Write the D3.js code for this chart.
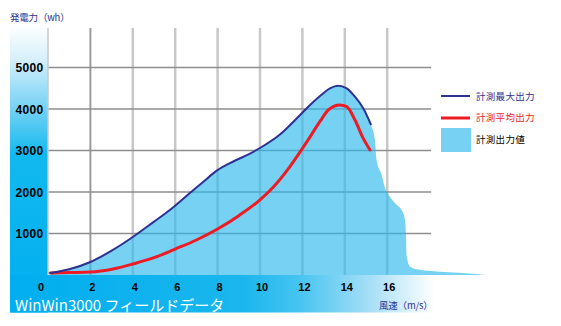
<!DOCTYPE html>
<html><head><meta charset="utf-8">
<script src="https://cdn.jsdelivr.net/npm/d3@7"></script>
<style>body{margin:0;background:#fff}svg{display:block}</style>
</head><body><svg id="c" width="561" height="326"></svg>
<script>
// ---- data ----
const xTicks = [0, 2, 4, 6, 8, 10, 12, 14, 16];
const yTicks = [1000, 2000, 3000, 4000, 5000];

const maxSpeed = [0.1, 1, 2, 3, 4, 5, 5.75, 6.86, 7.33, 7.96, 8.74, 9.53, 10, 10.94, 11.89, 12.36, 12.83, 13.3, 13.68, 14.09, 14.48, 14.87, 15.24];
const maxPower = [50, 137, 313, 586, 916, 1285, 1566, 2048, 2249, 2514, 2735, 2925, 3060, 3385, 3855, 4096, 4313, 4499, 4561, 4499, 4296, 4016, 3614];

const avgSpeed = [0.1, 1, 2, 3.07, 4, 5, 6, 7, 8, 9, 10, 10.63, 11.42, 12.2, 12.83, 13.22, 13.77, 14.09, 14.48, 14.87, 15.19];
const avgPower = [50, 60, 72, 145, 265, 417, 626, 843, 1108, 1430, 1810, 2120, 2620, 3200, 3700, 3976, 4096, 4056, 3735, 3293, 3012];

const areaSpeed = [0.1, 1, 2, 3, 4, 5, 5.75, 6.86, 7.33, 7.96, 8.74, 9.53, 10, 10.94, 11.89, 12.36, 12.83, 13.3, 13.68, 14.09, 14.48, 14.87, 15.24,
                   15.42, 15.5, 15.74, 15.9, 16.05, 16.45, 16.68, 16.84, 16.89, 16.92, 17.08, 17.39, 18.49, 19.75, 20.61];
const areaPower = [50, 137, 313, 586, 916, 1285, 1566, 2048, 2249, 2514, 2735, 2925, 3060, 3385, 3855, 4096, 4313, 4499, 4561, 4499, 4296, 4016, 3614,
                   3253, 2771, 2410, 2089, 1944, 1687, 1566, 1325, 928, 446, 201, 137, 80, 41, 0];

const legendLabels = ["計測最大出力", "計測平均出力", "計測出力値"];
const yTitle = "発電力（wh）";
const xTitle = "風速（m/s）";
const caption = "WinWin3000 フィールドデータ";

// ---- drawing ----
const svg = d3.select("#c");
const x = d3.scaleLinear().domain([0, 18]).range([48, 429.6]);
const y = d3.scaleLinear().domain([0, 5000]).range([275, 67.5]);
const plotTop = 28;

const defs = svg.append("defs");
const gV = defs.append("linearGradient").attr("id", "gv").attr("x1", 0).attr("y1", 0).attr("x2", 0).attr("y2", 1);
[[0, "#ffffff"], [0.12, "#d6effb"], [0.3, "#70d0f4"], [0.45, "#12b9ef"], [1, "#00aeef"]]
  .forEach(s => gV.append("stop").attr("offset", s[0]).attr("stop-color", s[1]));
const gH = defs.append("linearGradient").attr("id", "gh").attr("x1", 0).attr("y1", 0).attr("x2", 1).attr("y2", 0);
[[0, "#00aeef"], [0.55, "#1bb6ed"], [0.68, "#46c4f1"], [0.85, "#a8dff7"], [1, "#ffffff"]]
  .forEach(s => gH.append("stop").attr("offset", s[0]).attr("stop-color", s[1]));

// left band & bottom band
svg.append("rect").attr("x", 10).attr("y", 25).attr("width", x(0) - 10).attr("height", 312.5 - 25).attr("fill", "url(#gv)");
svg.append("rect").attr("x", 10).attr("y", y(0)).attr("width", 425).attr("height", 312.5 - y(0)).attr("fill", "url(#gh)");

// grid
const gridRight = x(18) + 1.5;
svg.append("g").selectAll("line").data(xTicks.filter(d => d > 0)).join("line")
  .attr("x1", d => x(d)).attr("x2", d => x(d)).attr("y1", plotTop).attr("y2", y(0))
  .attr("stroke", (d, i) => i === 0 ? "#9a9a9a" : "#c8c8c8")
  .attr("stroke-width", (d, i) => i === 0 ? 2 : 2.5);
svg.append("g").selectAll("line").data(yTicks).join("line")
  .attr("x1", x(0)).attr("x2", gridRight).attr("y1", d => y(d)).attr("y2", d => y(d))
  .attr("stroke", "#8e8e8e").attr("stroke-width", 1.6);
svg.append("line").attr("x1", x(0)).attr("x2", x(0)).attr("y1", plotTop).attr("y2", y(0))
  .attr("stroke", "#c8c8c8").attr("stroke-width", 1.5);

// area
const areaData = areaSpeed.map((s, i) => [s, areaPower[i]]);
svg.append("path").datum(areaData)
  .attr("d", d3.area().x(d => x(d[0])).y0(y(0)).y1(d => y(d[1])).curve(d3.curveMonotoneX))
  .attr("fill", "#2eb9ed").attr("fill-opacity", 0.65);

// lines
const lineGen = d3.line().x(d => x(d[0])).y(d => y(d[1])).curve(d3.curveMonotoneX);
svg.append("path").datum(avgSpeed.map((s, i) => [s, avgPower[i]]))
  .attr("d", lineGen).attr("fill", "none").attr("stroke", "#ed1c24").attr("stroke-width", 3)
  .attr("stroke-linejoin", "round").attr("stroke-linecap", "round");
svg.append("path").datum(maxSpeed.map((s, i) => [s, maxPower[i]]))
  .attr("d", lineGen).attr("fill", "none").attr("stroke", "#2e3192").attr("stroke-width", 2)
  .attr("stroke-linejoin", "round");

// axes labels
const yAxis = svg.append("g").attr("transform", `translate(${x(0) - 4.5},0)`)
  .call(d3.axisLeft(y).tickValues(yTicks).tickSize(0).tickPadding(0).tickFormat(d3.format("d")));
yAxis.select(".domain").remove();
yAxis.selectAll("text").attr("font-family", "Liberation Sans, Arial, sans-serif").attr("font-weight", "bold")
  .attr("font-size", 12).attr("fill", "#000").attr("letter-spacing", 0.3).attr("dy", "0.36em");

const xAxis = svg.append("g").attr("transform", `translate(1.5,${y(0)})`)
  .call(d3.axisBottom(x).tickValues(xTicks).tickSize(0).tickPadding(0).tickFormat(d3.format("d")));
xAxis.select(".domain").remove();
xAxis.selectAll("text").attr("font-family", "Liberation Sans, Arial, sans-serif").attr("font-weight", "bold")
  .attr("font-size", 11).attr("fill", "#000").attr("dy", "1.45em").attr("y", 0);
xAxis.selectAll(".tick").filter(d => d === 0).select("text").attr("text-anchor", "end").attr("x", -6);

// titles
const cjk = "'Noto Sans CJK JP', 'Noto Sans', sans-serif";
svg.append("text").attr("x", 10).attr("y", 21).text(yTitle)
  .attr("font-family", cjk).attr("font-size", 9.5).attr("fill", "#2e3192").attr("letter-spacing", -0.2);
svg.append("text").attr("x", 379).attr("y", 308.5).text(xTitle)
  .attr("font-family", cjk).attr("font-size", 9.5).attr("fill", "#2e3192").attr("letter-spacing", -0.2);
svg.append("text").attr("x", 15).attr("y", 311).text(caption)
  .attr("font-family", cjk).attr("font-size", 15).attr("fill", "#ffffff");

// legend
const lg = svg.append("g");
const legColors = ["#2e3192", "#ed1c24", "#000000"];
const legY = [100, 121, 143];
lg.append("line").attr("x1", 441).attr("x2", 470).attr("y1", 96).attr("y2", 96).attr("stroke", "#2e3192").attr("stroke-width", 2);
lg.append("line").attr("x1", 441).attr("x2", 470).attr("y1", 118).attr("y2", 118).attr("stroke", "#ed1c24").attr("stroke-width", 3);
lg.append("rect").attr("x", 441).attr("y", 128).attr("width", 30).attr("height", 24).attr("fill", "#77d1f3");
lg.selectAll("text").data(legendLabels).join("text")
  .attr("x", 476).attr("y", (d, i) => legY[i]).text(d => d)
  .attr("font-family", cjk).attr("font-size", 9.5).attr("letter-spacing", 0.3)
  .attr("fill", (d, i) => legColors[i]);
</script></body></html>
